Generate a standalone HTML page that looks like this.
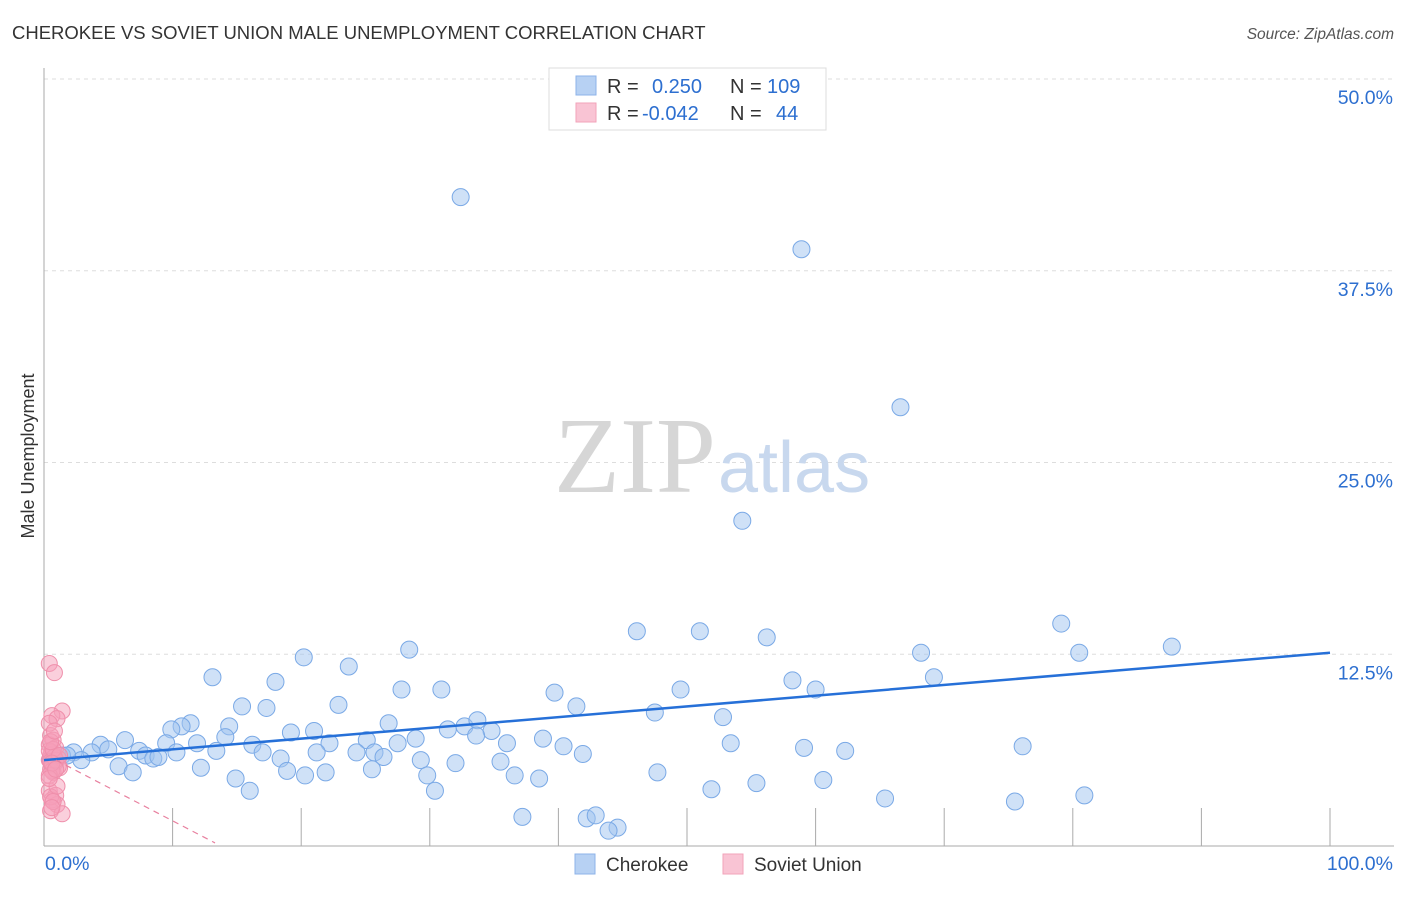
<!DOCTYPE html>
<html><head><meta charset="utf-8"><style>
body{margin:0;background:#fff;font-family:"Liberation Sans",sans-serif;}
</style></head><body>
<svg width="1406" height="892" xmlns="http://www.w3.org/2000/svg">
<text x="12" y="39" font-size="18.5" fill="#333">CHEROKEE VS SOVIET UNION MALE UNEMPLOYMENT CORRELATION CHART</text>
<text x="1394" y="39" font-size="15.5" fill="#555" font-style="italic" text-anchor="end">Source: ZipAtlas.com</text>
<text x="34" y="456" font-size="18" fill="#333" transform="rotate(-90 34 456)" text-anchor="middle">Male Unemployment</text>
<g id="grid"></g>
<text x="716" y="492" font-size="108" fill="#d6d6d6" text-anchor="end" font-family="Liberation Serif">ZIP</text>
<text x="718" y="492" font-size="72" fill="#c8d8ee">atlas</text>
<g id="pts"></g>
<g id="lines"></g>
<g>
<rect x="549" y="68" width="277" height="62" fill="#fff" stroke="#ddd"/>
<rect x="576" y="76" width="20" height="19" fill="#b7d1f3" stroke="#8db3e8"/>
<rect x="576" y="103" width="20" height="19" fill="#f9c4d4" stroke="#f2a3ba"/>
<text x="607" y="93" font-size="20" fill="#333">R =</text><text x="652" y="93" font-size="20" fill="#2d6fd0">0.250</text>
<text x="730" y="93" font-size="20" fill="#333">N =</text><text x="767" y="93" font-size="20" fill="#2d6fd0">109</text>
<text x="607" y="120" font-size="20" fill="#333">R =</text><text x="642" y="120" font-size="20" fill="#2d6fd0">-0.042</text>
<text x="730" y="120" font-size="20" fill="#333">N =</text><text x="776" y="120" font-size="20" fill="#2d6fd0">44</text>
</g>
<g>
<rect x="575" y="854" width="20" height="20" fill="#b7d1f3" stroke="#8db3e8"/>
<text x="606" y="871" font-size="19" fill="#333">Cherokee</text>
<rect x="723" y="854" width="20" height="20" fill="#f9c4d4" stroke="#f2a3ba"/>
<text x="754" y="871" font-size="19" fill="#333">Soviet Union</text>
</g>
</svg>
<script>
const yTicks=[12.5,25,37.5,50];
const yTickLabels=["12.5%","25.0%","37.5%","50.0%"];
const xTickLabels=["0.0%","100.0%"];
const blueX=[32.4,58.9,66.6,54.3,79.1,87.7,46.1,51.0,56.2,68.2,80.5,69.2,58.2,60.0,49.5,39.7,41.4,47.5,52.8,53.4,59.1,62.3,76.1,28.4,23.7,20.2,13.1,18.0,27.8,30.9,22.9,15.4,17.3,26.8,11.4,10.7,14.4,9.9,19.2,21.0,31.4,32.7,33.7,34.8,33.6,14.1,6.3,4.4,9.5,11.9,16.2,22.2,25.1,28.9,27.5,36.0,38.8,40.4,41.9,7.4,5.0,2.3,3.7,1.4,2.9,7.9,8.5,8.9,10.3,13.4,17.0,21.2,24.3,25.7,26.4,18.4,29.3,35.5,32.0,5.8,12.2,18.9,21.9,25.5,6.9,20.3,29.8,36.6,14.9,38.5,47.7,55.4,60.6,16.0,30.4,51.9,65.4,75.5,80.9,37.2,42.2,42.9,44.6,43.9,0.5,0.9,1.8];
const blueY=[42.3,38.9,28.6,21.2,14.5,13.0,14.0,14.0,13.6,12.6,12.6,11.0,10.8,10.2,10.2,10.0,9.1,8.7,8.4,6.7,6.4,6.2,6.5,12.8,11.7,12.3,11.0,10.7,10.2,10.2,9.2,9.1,9.0,8.0,8.0,7.8,7.8,7.6,7.4,7.5,7.6,7.8,8.2,7.5,7.2,7.1,6.9,6.6,6.7,6.7,6.6,6.7,6.9,7.0,6.7,6.7,7.0,6.5,6.0,6.2,6.3,6.1,6.1,5.9,5.6,5.9,5.7,5.8,6.1,6.2,6.1,6.1,6.1,6.1,5.8,5.7,5.6,5.5,5.4,5.2,5.1,4.9,4.8,5.0,4.8,4.6,4.6,4.6,4.4,4.4,4.8,4.1,4.3,3.6,3.6,3.7,3.1,2.9,3.3,1.9,1.8,2.0,1.2,1.0,5.6,5.5,5.9];
const pinkX=[0.1,0.5,1.1,0.3,0.7,0.2,0.4,0.1,0.6,0.3,0.2,0.8,0.1,0.5,0.3,0.9,0.2,0.4,0.1,0.6,0.3,0.7,0.2,1.1,0.4,0.1,0.5,0.2,0.8,0.3,0.1,0.6,0.4,0.2,0.9,0.3,0.1,0.5,0.2,0.7,0.4,0.3,0.1,0.6];
const pinkY=[11.9,11.3,8.8,8.5,8.3,7.2,6.9,6.6,6.4,6.1,5.9,5.7,5.6,5.4,5.3,5.1,5.0,4.8,3.6,3.3,3.0,2.7,2.3,2.1,6.0,6.2,5.8,5.5,5.2,4.9,4.6,5.6,6.3,6.8,5.9,5.4,8.0,7.5,3.2,3.9,2.9,2.5,4.4,5.0];
const blueTrend=[5.6,12.6];
const pinkTrend=[5.6,0.2,13.3];
const X=v=>44+v*12.86, Y=v=>846-v*15.34;
const NS="http://www.w3.org/2000/svg";
function mk(p,t,a){const e=document.createElementNS(NS,t);for(const k in a)e.setAttribute(k,a[k]);p.appendChild(e);return e;}
const grid=document.getElementById('grid');
yTicks.forEach((t,i)=>{
 const l=mk(grid,'line',{x1:44,x2:1394,y1:Y(t),y2:Y(t),stroke:'#ddd','stroke-dasharray':'4,4'});
 
 
 const tx=mk(grid,'text',{x:1393,y:Y(t)+25,'font-size':19.5,fill:'#2d6fd0','text-anchor':'end'});
 tx.textContent=yTickLabels[i];
 
 
});
const ax=mk(grid,'line',{x1:44,x2:44,y1:68,y2:846,stroke:'#aaa'});


const bx=mk(grid,'line',{x1:44,x2:1394,y1:846,y2:846,stroke:'#aaa'});


for(let i=1;i<=10;i++){const t=mk(grid,'line',{x1:X(i*10),x2:X(i*10),y1:808,y2:846,stroke:'#aaa'});
 
 }
const x0=mk(grid,'text',{x:45,y:870,'font-size':19.5,fill:'#2d6fd0'});x0.textContent=xTickLabels[0];


const x1=mk(grid,'text',{x:1393,y:870,'font-size':19.5,fill:'#2d6fd0','text-anchor':'end'});x1.textContent=xTickLabels[1];


const pts=document.getElementById('pts');
blueX.forEach((v,i)=>{const c=mk(pts,'circle',{cx:X(v),cy:Y(blueY[i]),r:8.5,fill:'rgba(160,196,240,0.5)',stroke:'#7aa9e6','stroke-width':1});
 
 });
pinkX.forEach((v,i)=>{const c=mk(pts,'circle',{cx:X(v)+4,cy:Y(pinkY[i]),r:8,fill:'rgba(245,160,185,0.5)',stroke:'#ef8fab','stroke-width':1});
 
 });
const lines=document.getElementById('lines');
const bl=mk(lines,'line',{x1:X(0),y1:Y(blueTrend[0]),x2:X(100),y2:Y(blueTrend[1]),stroke:'#2670d8','stroke-width':2.5});


const pl=mk(lines,'line',{x1:X(0)+12,y1:Y(pinkTrend[0]),x2:X(pinkTrend[2]),y2:Y(pinkTrend[1]),stroke:'#e8809f','stroke-width':1.2,'stroke-dasharray':'6,5'});


</script>
</body></html>
